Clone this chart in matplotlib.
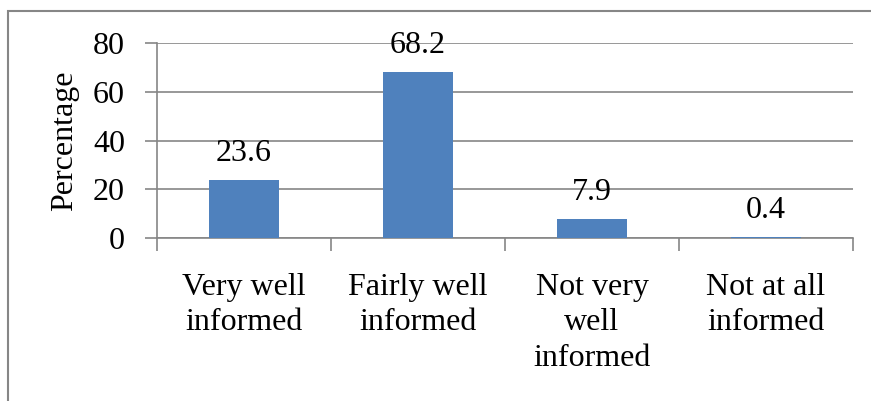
import matplotlib
matplotlib.use("Agg")
import matplotlib.pyplot as plt
from matplotlib.patches import Rectangle

categories = ["Very well\ninformed", "Fairly well\ninformed", "Not very\nwell\ninformed", "Not at all\ninformed"]
percentages = [23.6, 68.2, 7.9, 0.4]
y_ticks = [0, 20, 40, 60, 80]

plt.rcParams["font.family"] = ["Liberation Serif", "DejaVu Serif"]
GRAY = "#868686"
FS = 23

fig = plt.figure(figsize=(8.71, 4.01), dpi=100)
ax = fig.add_axes([157 / 871, 1 - 238 / 401, (853 - 157) / 871, (238 - 43) / 401])

x = range(len(categories))
bars = ax.bar(x, percentages, width=0.4, color="#4F81BD", zorder=3)
for bar, val in zip(bars, percentages):
    ax.text(bar.get_x() + bar.get_width() / 2, val + 5, str(val),
            ha="center", va="bottom", fontsize=FS, zorder=4)

ax.set_xlim(-0.5, len(categories) - 0.5)
ax.set_ylim(0, 80)
ax.set_yticks(y_ticks)
ax.yaxis.grid(True, color=GRAY, linewidth=1.2, zorder=0)
ax.set_xticks([i - 0.5 for i in range(len(categories) + 1)])
ax.set_xticklabels([])
ax.set_xticks(list(x), minor=True)
ax.set_xticklabels(categories, minor=True, fontsize=FS, linespacing=1.3)
ax.tick_params(axis="x", which="minor", length=0, pad=25)
ax.tick_params(axis="x", which="major", length=9, color=GRAY, width=1.2)
ax.tick_params(axis="y", length=9, color=GRAY, width=1.2, labelsize=FS, pad=14)

for side in ["top", "right"]:
    ax.spines[side].set_visible(False)
for side in ["left", "bottom"]:
    ax.spines[side].set_color(GRAY)
    ax.spines[side].set_linewidth(1.2)

ax.set_ylabel("Percentage", fontsize=FS, labelpad=10)

# outer chart border (extends past the right and bottom edges)
fig.patches.append(Rectangle((8 / 871, -0.1), 1.0, 1 - 11 / 401 + 0.1,
                             transform=fig.transFigure, fill=False,
                             edgecolor=GRAY, linewidth=1.5))

fig.savefig("out.png", dpi=100)
plt.close(fig)
